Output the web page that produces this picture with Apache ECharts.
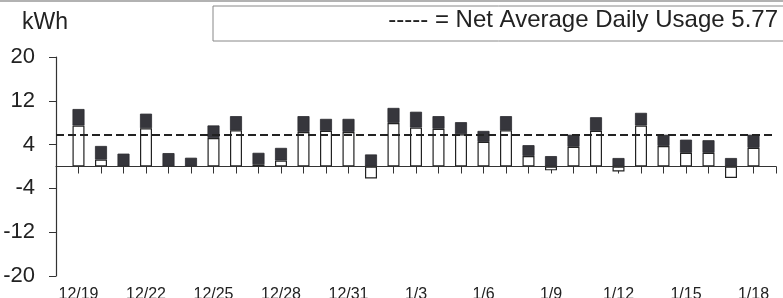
<!DOCTYPE html>
<html>
<head>
<meta charset="utf-8">
<script src="https://cdn.jsdelivr.net/npm/echarts@6/dist/echarts.min.js"></script>
<style>
  html, body { margin: 0; padding: 0; background: #fff; }
  #chart { width: 783px; height: 298px; }
</style>
</head>
<body>
<div id="chart"></div>
<script>
// days shown on the x axis
var dates = ['12/19','12/20','12/21','12/22','12/23','12/24','12/25','12/26','12/27','12/28',
  '12/29','12/30','12/31','1/1','1/2','1/3','1/4','1/5','1/6','1/7',
  '1/8','1/9','1/10','1/11','1/12','1/13','1/14','1/15','1/16','1/17','1/18'];
// white part of each bar (kWh)
var baseValues = [7.5, 1.25, 0, 7.0, 0, 0, 5.2, 6.6, 0.4, 1.1,
  6.3, 6.5, 6.3, -2.2, 7.95, 7.1, 6.9, 5.9, 4.5, 6.6,
  1.9, -0.7, 3.6, 6.5, -0.9, 7.5, 3.75, 2.5, 2.5, -2.1, 3.4];
// dark cap on top of each bar (kWh)
var capValues = [3.0, 2.5, 2.35, 2.65, 2.45, 1.6, 2.3, 2.6, 2.1, 2.3,
  2.9, 2.2, 2.4, 2.2, 2.75, 2.9, 2.3, 2.2, 2.0, 2.6,
  2.0, 1.9, 2.2, 2.5, 1.55, 2.3, 2.05, 2.4, 2.3, 1.55, 2.4];
var yTicks = [-20, -12, -4, 4, 12, 20];
var netAverage = 5.77;

// blank slot at each end so the axis runs past the first and last day
var categories = [''].concat(dates, ['']);
var pad = function (arr) { return ['-'].concat(arr, ['-']); };

var font = 'Liberation Sans, Arial, sans-serif';
var myChart = echarts.init(document.getElementById('chart'));

myChart.setOption({
  animation: false,
  backgroundColor: '#fff',
  grid: { left: 56, right: 7, top: 57, bottom: 22, outerBoundsMode: 'none', containLabel: false },
  title: {
    text: 'kWh', left: 17, top: 6,
    textStyle: { fontFamily: font, fontSize: 23, fontWeight: 'normal', color: '#222' }
  },
  graphic: [
    { type: 'line', shape: { x1: 0, y1: 1, x2: 783, y2: 1 }, style: { stroke: '#999', lineWidth: 1.5 } },
    { type: 'rect', shape: { x: 213, y: 6, width: 600, height: 35 }, style: { fill: 'none', stroke: '#888', lineWidth: 1 } },
    { type: 'text', right: 5, top: 8,
      style: { text: '----- = Net Average Daily Usage 5.77', fontFamily: font, fontSize: 24, fill: '#222' } }
  ],
  xAxis: {
    type: 'category',
    data: categories,
    boundaryGap: false,
    axisLine: { lineStyle: { color: '#333', width: 1.2 } },
    axisTick: { interval: 0, length: 7, lineStyle: { color: '#333' } },
    axisLabel: {
      interval: function (i) { return i >= 1 && i <= 31 && (i - 1) % 3 === 0; },
      margin: 11, fontFamily: font, fontSize: 16, color: '#222'
    },
    splitLine: { show: false }
  },
  yAxis: {
    type: 'value',
    min: yTicks[0], max: yTicks[yTicks.length - 1], interval: 8,
    axisLine: { show: true, lineStyle: { color: '#333', width: 1.2 } },
    axisTick: { show: true, length: 7, lineStyle: { color: '#333' } },
    axisLabel: { margin: 21, fontFamily: font, fontSize: 22, color: '#222' },
    splitLine: { show: false }
  },
  series: [
    {
      name: 'base', type: 'bar', stack: 'kwh', barWidth: 12,
      data: pad(baseValues),
      itemStyle: { color: '#fff', borderColor: '#222', borderWidth: 1.2 },
      markLine: {
        silent: true, symbol: 'none', label: { show: false },
        data: [
          { yAxis: 0, lineStyle: { color: '#333', width: 1.2, type: 'solid' } },
          { yAxis: netAverage, lineStyle: { color: '#222', width: 2.2, type: [8, 4] } }
        ]
      }
    },
    {
      name: 'cap', type: 'bar', stack: 'kwh', barWidth: 12,
      data: pad(capValues),
      itemStyle: { color: '#36363c', borderColor: '#2a2a2e', borderWidth: 0.8 }
    }
  ]
});
</script>
</body>
</html>
